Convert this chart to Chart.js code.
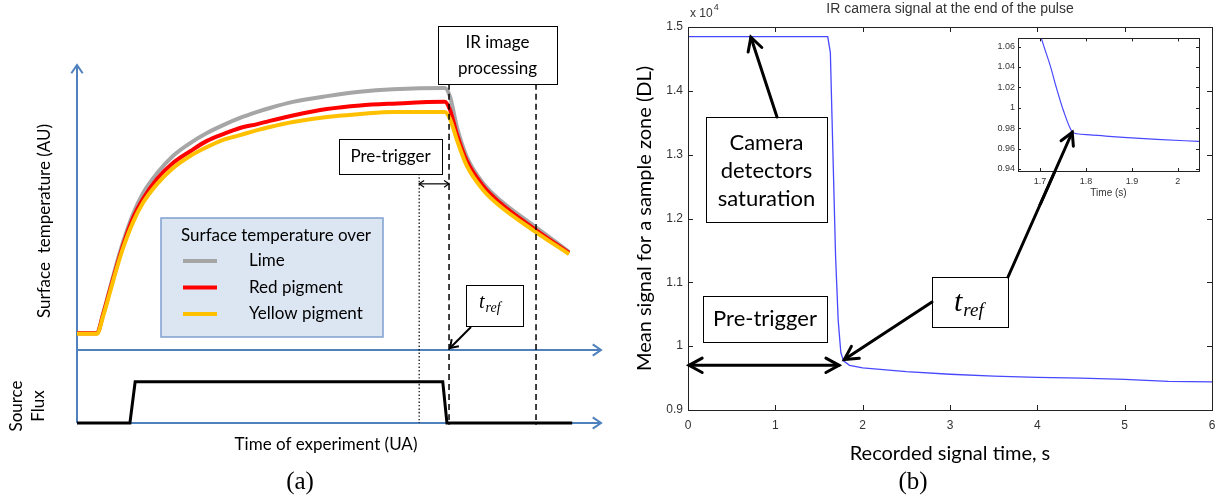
<!DOCTYPE html>
<html>
<head>
<meta charset="utf-8">
<title>Surface temperature schematic and IR camera signal</title>
<script src="https://cdn.jsdelivr.net/npm/chart.js"></script>
<style>
  body { margin: 0; background: #fff; }
  #wrap { position: relative; width: 1228px; height: 502px; }
  canvas { position: absolute; }
</style>
</head>
<body>
<div id="wrap">
  <canvas id="panelA" width="614" height="502" style="left:0;top:0"></canvas>
  <canvas id="panelB" width="614" height="502" style="left:614px;top:0"></canvas>
  <canvas id="inset" width="230" height="175" style="left:975px;top:30px"></canvas>
</div>
<script>
// ---------- panel (a): schematic in arbitrary units (0..100 on both axes) ----------
var expTime = [0, 3.8, 5.0, 6.3, 7.6, 8.8, 10.7, 12.6, 15.3, 18.3, 21.6, 24.8, 27.9, 31.1, 34.4, 36.8, 41.2, 47.7, 54.0, 60.3, 70.2, 71.2, 72.5, 74.4, 77.5, 80.7, 87.0, 93.9];
var limeTemp = [25.1, 25.1, 30.7, 37.7, 44.7, 50.6, 58.4, 64.2, 69.8, 74.6, 78.2, 81.0, 83.2, 85.2, 86.9, 88.0, 89.7, 91.3, 92.5, 93.2, 93.6, 91.1, 82.7, 74.3, 67.0, 62.3, 55.3, 47.8];
var redTemp = [25.1, 25.1, 30.4, 37.2, 43.9, 49.7, 57.3, 62.6, 68.2, 72.6, 75.9, 78.8, 80.7, 82.4, 83.5, 84.4, 85.9, 87.7, 88.7, 89.2, 89.7, 87.4, 80.7, 73.2, 66.2, 61.5, 54.5, 47.5];
var yellowTemp = [24.9, 24.9, 29.9, 36.6, 43.3, 48.9, 56.1, 61.5, 66.8, 71.2, 74.6, 77.1, 79.1, 80.4, 81.8, 82.7, 84.1, 85.5, 86.3, 86.9, 86.9, 84.9, 79.1, 71.8, 65.1, 60.6, 53.9, 47.2];
var fluxTime = [0, 10.1, 11.1, 69.8, 70.6, 94.5];
var fluxLevel = [0, 0, 11.5, 11.5, 0, 0];
var tempBaseline = 20.4;          // level of the temperature time axis
var preTriggerStart = 65.3;       // dotted line
var tRef = 71.0;                  // end of pulse / t_ref
var irEnd = 87.6;                 // end of IR image processing window

// ---------- panel (b): IR camera signal, x 10^4 DL ----------
var signalTime = [0, 0.5, 1.0, 1.5, 1.60, 1.63, 1.66, 1.69, 1.72, 1.75, 1.78, 1.85, 2.0, 2.5, 3.0, 3.5, 4.0, 4.5, 5.0, 5.5, 6.0];
var signalDL = [1.485, 1.485, 1.485, 1.485, 1.485, 1.46, 1.30, 1.14, 1.04, 0.99, 0.977, 0.970, 0.966, 0.960, 0.956, 0.953, 0.951, 0.950, 0.948, 0.945, 0.944];
var timeTicks = [0, 1, 2, 3, 4, 5, 6];
var signalTicks = [0.9, 1, 1.1, 1.2, 1.3, 1.4, 1.5];

// inset zoom around t_ref
var insetTime = [1.700, 1.710, 1.722, 1.736, 1.751, 1.769, 1.780, 1.809, 1.850, 1.881, 1.954, 2.046];
var insetDL = [1.072, 1.058, 1.0415, 1.019, 0.997, 0.977, 0.9745, 0.9735, 0.972, 0.971, 0.969, 0.967];
var insetTimeTicks = [1.7, 1.8, 1.9, 2];
var insetTicks = [0.94, 0.96, 0.98, 1, 1.02, 1.04, 1.06];
var tRefPoint = {x: 1.77, y: 0.976};

function pts(xs, ys) { return xs.map(function (v, i) { return {x: v, y: ys[i]}; }); }

function chevron(ctx, x1, y1, x2, y2, len, spread) {
  var a = Math.atan2(y2 - y1, x2 - x1);
  ctx.beginPath();
  ctx.moveTo(x2 - len * Math.cos(a - spread), y2 - len * Math.sin(a - spread));
  ctx.lineTo(x2, y2);
  ctx.lineTo(x2 - len * Math.cos(a + spread), y2 - len * Math.sin(a + spread));
  ctx.stroke();
}
function arrow(ctx, x1, y1, x2, y2, len, spread, both) {
  ctx.beginPath(); ctx.moveTo(x1, y1); ctx.lineTo(x2, y2); ctx.stroke();
  chevron(ctx, x1, y1, x2, y2, len, spread);
  if (both) chevron(ctx, x2, y2, x1, y1, len, spread);
}
function bigArrow(ctx, x1, y1, x2, y2, both) {
  ctx.strokeStyle = '#000'; ctx.lineWidth = 3; ctx.lineCap = 'round';
  arrow(ctx, x1, y1, x2, y2, 15, 0.5, both);
  ctx.lineCap = 'butt';
}
function box(ctx, x, y, w, h) {
  ctx.fillStyle = '#fff'; ctx.fillRect(x, y, w, h);
  ctx.strokeStyle = '#000'; ctx.lineWidth = 1; ctx.strokeRect(x + 0.5, y + 0.5, w, h);
}
function text(ctx, s, x, y, font, align) {
  ctx.font = font; ctx.fillStyle = '#000';
  ctx.textAlign = align || 'center'; ctx.textBaseline = 'middle';
  ctx.fillText(s, x, y);
}
function vtext(ctx, s, x, y, font) {
  ctx.save(); ctx.translate(x, y); ctx.rotate(-Math.PI / 2);
  text(ctx, s, 0, 0, font); ctx.restore();
}
function tref(ctx, x, y, big, small) {
  ctx.font = 'italic ' + big + 'px "Liberation Serif"'; ctx.fillStyle = '#000';
  ctx.textAlign = 'left'; ctx.textBaseline = 'alphabetic';
  ctx.fillText('t', x, y);
  var w = ctx.measureText('t').width;
  ctx.font = 'italic ' + small + 'px "Liberation Serif"';
  ctx.fillText('ref', x + w + 1, y + big * 0.18);
}
// MATLAB style frame with inward ticks on all four sides
function frame(chart, len) {
  var ctx = chart.ctx, a = chart.chartArea, x = chart.scales.x, y = chart.scales.y;
  ctx.save();
  ctx.strokeStyle = '#222'; ctx.lineWidth = 1;
  ctx.strokeRect(Math.round(a.left) + 0.5, Math.round(a.top) + 0.5, Math.round(a.right - a.left), Math.round(a.bottom - a.top));
  ctx.beginPath();
  x.ticks.forEach(function (t) {
    var p = Math.round(x.getPixelForValue(t.value)) + 0.5;
    ctx.moveTo(p, a.bottom); ctx.lineTo(p, a.bottom - len);
    ctx.moveTo(p, a.top); ctx.lineTo(p, a.top + len);
  });
  y.ticks.forEach(function (t) {
    var p = Math.round(y.getPixelForValue(t.value)) + 0.5;
    ctx.moveTo(a.left, p); ctx.lineTo(a.left + len, p);
    ctx.moveTo(a.right, p); ctx.lineTo(a.right - len, p);
  });
  ctx.stroke();
  ctx.restore();
}

var calibri = '"Lato", "Open Sans", sans-serif';

// ================= panel (a) =================
var schematic = {
  id: 'schematic',
  beforeDatasetsDraw: function (chart) {
    var ctx = chart.ctx, xs = chart.scales.x, ys = chart.scales.y;
    var x0 = xs.getPixelForValue(0), x1 = xs.getPixelForValue(100);
    var yb = ys.getPixelForValue(tempBaseline), y0 = ys.getPixelForValue(0), yt = ys.getPixelForValue(100);
    ctx.save();
    ctx.strokeStyle = '#4f81bd'; ctx.lineWidth = 2;
    arrow(ctx, x0, y0, x0, yt, 10, 0.6);
    arrow(ctx, x0, yb, x1, yb, 10, 0.6);
    arrow(ctx, x0, y0, x1, y0, 10, 0.6);
    ctx.restore();
  },
  afterDatasetsDraw: function (chart) {
    var ctx = chart.ctx, xs = chart.scales.x, ys = chart.scales.y;
    ctx.save();
    // legend
    ctx.fillStyle = '#dce6f2'; ctx.fillRect(161, 218, 222, 119);
    ctx.strokeStyle = '#7f9fcf'; ctx.lineWidth = 1.5; ctx.strokeRect(161, 218, 222, 119);
    text(ctx, 'Surface temperature over', 276, 236, '17px ' + calibri);
    chart.data.datasets.slice(0, 3).forEach(function (d, i) {
      var yy = 261 + i * 26.5;
      ctx.strokeStyle = d.borderColor; ctx.lineWidth = 4;
      ctx.beginPath(); ctx.moveTo(183, yy); ctx.lineTo(217, yy); ctx.stroke();
      text(ctx, d.label, 249, yy, '17px ' + calibri, 'left');
    });
    // IR processing and pre-trigger boxes
    box(ctx, 438, 26, 119, 58);
    text(ctx, 'IR image', 497.5, 43, '17px ' + calibri);
    text(ctx, 'processing', 497.5, 69, '17px ' + calibri);
    box(ctx, 339, 139, 103, 35);
    text(ctx, 'Pre-trigger', 390.5, 157, '17px ' + calibri);
    ctx.strokeStyle = '#000'; ctx.lineWidth = 1.2;
    arrow(ctx, xs.getPixelForValue(preTriggerStart), ys.getPixelForValue(66.8),
      xs.getPixelForValue(tRef), ys.getPixelForValue(66.8), 6, 0.6, true);
    // t_ref
    box(ctx, 466, 285, 57, 41);
    tref(ctx, 479, 308, 20, 14);
    ctx.strokeStyle = '#000'; ctx.lineWidth = 2;
    arrow(ctx, 471, 327, xs.getPixelForValue(tRef) + 1, ys.getPixelForValue(tempBaseline) - 2, 9, 0.6);
    // axis labels
    vtext(ctx, 'Surface  temperature (AU)', 45, 221, '17px ' + calibri);
    vtext(ctx, 'Source', 17, 406, '17px ' + calibri);
    vtext(ctx, 'Flux', 39, 406, '17px ' + calibri);
    text(ctx, 'Time of experiment (UA)', 326, 445, '17px ' + calibri);
    text(ctx, '(a)', 300, 482, '25px "Liberation Serif"');
    ctx.restore();
  }
};

new Chart(document.getElementById('panelA'), {
  type: 'line',
  data: {
    datasets: [
      {label: 'Lime', data: pts(expTime, limeTemp), borderColor: '#a6a6a6', borderWidth: 4, order: 4},
      {label: 'Red pigment', data: pts(expTime, redTemp), borderColor: '#ff0000', borderWidth: 4, order: 3},
      {label: 'Yellow pigment', data: pts(expTime, yellowTemp), borderColor: '#ffc000', borderWidth: 4, order: 2},
      {label: 'Source flux', data: pts(fluxTime, fluxLevel), borderColor: '#000', borderWidth: 3, order: 1, cubicInterpolationMode: 'default', tension: 0},
      {label: 'pre-trigger', data: pts([preTriggerStart, preTriggerStart], [69.6, 0]), borderColor: '#000', borderWidth: 1.2, borderDash: [1.5, 2], order: 0, tension: 0},
      {label: 't_ref', data: pts([tRef, tRef], [94.7, -0.5]), borderColor: '#000', borderWidth: 1.5, borderDash: [6, 4], order: 0, tension: 0},
      {label: 'IR end', data: pts([irEnd, irEnd], [94.7, -0.5]), borderColor: '#000', borderWidth: 1.5, borderDash: [6, 4], order: 0, tension: 0}
    ]
  },
  options: {
    responsive: false, animation: false,
    layout: {padding: {left: 77, right: 13, top: 65, bottom: 79}},
    elements: {point: {radius: 0}, line: {cubicInterpolationMode: 'monotone', borderCapStyle: 'butt'}},
    datasets: {line: {clip: false}},
    plugins: {legend: {display: false}, tooltip: {enabled: false}},
    scales: {
      x: {type: 'linear', min: 0, max: 100, display: false},
      y: {min: 0, max: 100, display: false}
    }
  },
  plugins: [schematic]
});

// ================= inset =================
var insetDecor = {
  id: 'insetDecor',
  beforeDatasetsDraw: function (chart) {
    var a = chart.chartArea;
    chart.ctx.fillStyle = '#fff';
    chart.ctx.fillRect(a.left, a.top, a.right - a.left, a.bottom - a.top);
  },
  afterDraw: function (chart) {
    frame(chart, 3);
    var ctx = chart.ctx;
    ctx.save();
    ctx.strokeStyle = '#000'; ctx.lineWidth = 3; ctx.lineCap = 'round';
    arrow(ctx, 1008 - 975, 277 - 30, chart.scales.x.getPixelForValue(tRefPoint.x), chart.scales.y.getPixelForValue(tRefPoint.y), 14, 0.5);
    ctx.restore();
  }
};
var tickFmt = function (v) { return String(+(+v).toFixed(3)); };
var insetChart = new Chart(document.getElementById('inset'), {
  type: 'line',
  data: {datasets: [{data: pts(insetTime, insetDL), borderColor: 'rgba(40,40,255,0.85)', borderWidth: 1.2, pointRadius: 0, cubicInterpolationMode: 'monotone'}]},
  options: {
    responsive: false, animation: false,
    layout: {padding: {left: 15, right: 6, top: 6, bottom: 6}},
    plugins: {legend: {display: false}, tooltip: {enabled: false}},
    scales: {
      x: {type: 'linear', min: 1.652, max: 2.046,
        afterBuildTicks: function (s) { s.ticks = insetTimeTicks.map(function (v) { return {value: v}; }); },
        afterFit: function (s) { s.height = 28; },
        ticks: {callback: tickFmt, padding: 5, maxRotation: 0, font: {family: 'Liberation Sans', size: 9}, color: '#333'},
        grid: {display: false, drawTicks: false}, border: {display: false},
        title: {display: true, text: 'Time (s)', font: {family: 'Liberation Sans', size: 10}, color: '#333', padding: 0}},
      y: {min: 0.938, max: 1.068,
        afterBuildTicks: function (s) { s.ticks = insetTicks.map(function (v) { return {value: v}; }); },
        afterFit: function (s) { s.width = 28; },
        ticks: {callback: tickFmt, padding: 3, font: {family: 'Liberation Sans', size: 9}, color: '#333'},
        grid: {display: false, drawTicks: false}, border: {display: false}}
    }
  },
  plugins: [insetDecor]
});

// ================= panel (b) =================
var signalDecor = {
  id: 'signalDecor',
  afterDraw: function (chart) {
    frame(chart, 5);
    var ctx = chart.ctx, xs = chart.scales.x, ys = chart.scales.y;
    ctx.save();
    // exponent label
    ctx.fillStyle = '#333'; ctx.textAlign = 'left'; ctx.textBaseline = 'alphabetic';
    ctx.font = '12px "Liberation Sans"'; ctx.fillText('x 10', 76, 17);
    var w = ctx.measureText('x 10').width;
    ctx.font = '9px "Liberation Sans"'; ctx.fillText('4', 77 + w, 10);
    // saturation
    box(ctx, 92, 117, 121, 105);
    text(ctx, 'Camera', 152.5, 143, '22px ' + calibri);
    text(ctx, 'detectors', 152.5, 171, '22px ' + calibri);
    text(ctx, 'saturation', 152.5, 199, '22px ' + calibri);
    bigArrow(ctx, 163, 117, xs.getPixelForValue(0.72), ys.getPixelForValue(1.484));
    // pre-trigger
    box(ctx, 89, 296, 124, 46);
    text(ctx, 'Pre-trigger', 151, 319, '22px ' + calibri);
    bigArrow(ctx, xs.getPixelForValue(0) + 1, ys.getPixelForValue(0.970), xs.getPixelForValue(1.73), ys.getPixelForValue(0.970), true);
    // t_ref
    box(ctx, 318, 277, 76, 50);
    tref(ctx, 340, 311, 30, 19);
    bigArrow(ctx, 318, 302, xs.getPixelForValue(1.79), ys.getPixelForValue(0.979));
    var ix = insetChart.scales.x.getPixelForValue(tRefPoint.x) + 975 - 614;
    var iy = insetChart.scales.y.getPixelForValue(tRefPoint.y) + 30;
    bigArrow(ctx, 394, 277, ix, iy);
    // panel letter
    text(ctx, '(b)', 299, 482, '25px "Liberation Serif"');
    ctx.restore();
  }
};

new Chart(document.getElementById('panelB'), {
  type: 'line',
  data: {datasets: [{data: pts(signalTime, signalDL), borderColor: 'rgba(40,40,255,0.85)', borderWidth: 1.3, pointRadius: 0, tension: 0}]},
  options: {
    responsive: false, animation: false,
    layout: {padding: {left: 10, right: 16, top: 0, bottom: 36}},
    plugins: {
      legend: {display: false}, tooltip: {enabled: false},
      title: {display: true, fullSize: false, text: 'IR camera signal at the end of the pulse',
        font: {family: 'Liberation Sans', size: 14, weight: 'normal'}, color: '#333', padding: {top: 1, bottom: 9.2}}
    },
    scales: {
      x: {type: 'linear', min: 0, max: 6,
        afterBuildTicks: function (s) { s.ticks = timeTicks.map(function (v) { return {value: v}; }); },
        afterFit: function (s) { s.height = 56; },
        ticks: {callback: tickFmt, padding: 8, maxRotation: 0, font: {family: 'Liberation Sans', size: 12}, color: '#333'},
        grid: {display: false, drawTicks: false}, border: {display: false},
        title: {display: true, text: 'Recorded signal time, s', font: {family: 'Lato', size: 20}, color: '#000', padding: 0}},
      y: {min: 0.9, max: 1.5,
        afterBuildTicks: function (s) { s.ticks = signalTicks.map(function (v) { return {value: v}; }); },
        afterFit: function (s) { s.width = 64; },
        ticks: {callback: tickFmt, padding: 5, font: {family: 'Liberation Sans', size: 12}, color: '#333'},
        grid: {display: false, drawTicks: false}, border: {display: false},
        title: {display: true, text: 'Mean signal for a sample zone (DL)', font: {family: 'Lato', size: 20}, color: '#000', padding: {top: 9, bottom: 0}}}
    }
  },
  plugins: [signalDecor]
});
</script>
</body>
</html>
